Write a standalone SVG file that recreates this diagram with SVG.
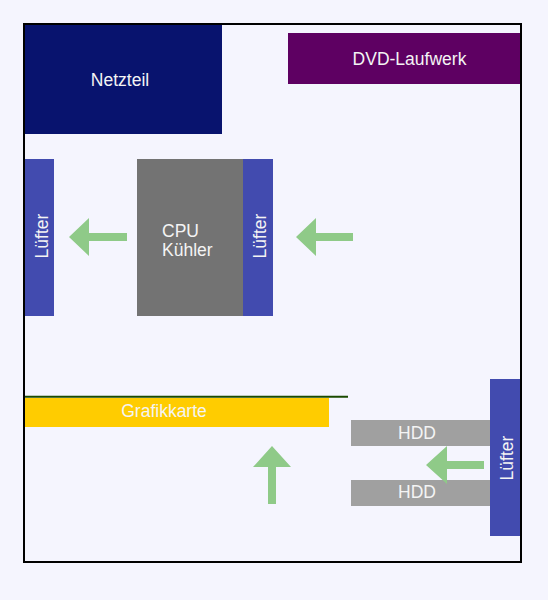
<svg xmlns="http://www.w3.org/2000/svg" width="548" height="600" viewBox="0 0 548 600">
<style>
  text { font-family: "Liberation Sans", Arial, sans-serif; font-size: 17.5px; fill: #f4f4f4; }
  .mid { text-anchor: middle; }
  .fan { fill: #424baf; }
  .arrow { fill: #8fca88; }
  .hdd { fill: #a0a0a0; }
</style>
<rect x="0" y="0" width="548" height="600" fill="#f5f5fe"/>
<rect id="gehaeuse" x="24" y="24" width="497" height="538" fill="#f5f5fe" stroke="#000" stroke-width="2"/>
<g id="netzteil">
  <rect x="25" y="25" width="197" height="109" fill="#08136e"/>
  <text class="mid" x="120" y="86">Netzteil</text>
</g>
<g id="dvd">
  <rect x="288" y="33" width="232" height="51" fill="#5e0062"/>
  <text class="mid" x="409.5" y="65">DVD-Laufwerk</text>
</g>
<g id="luefter-links">
  <rect class="fan" x="25" y="159" width="29" height="157"/>
  <text class="mid" transform="translate(47.5,236) rotate(-90)">Lüfter</text>
</g>
<g id="cpu">
  <rect x="137" y="159" width="106" height="157" fill="#737373"/>
  <text x="162" y="236.5">CPU</text>
  <text x="162" y="256">Kühler</text>
</g>
<g id="luefter-cpu">
  <rect class="fan" x="243" y="159" width="30" height="157"/>
  <text class="mid" transform="translate(266,236) rotate(-90)">Lüfter</text>
</g>
<g id="grafikkarte">
  <rect x="25" y="398" width="304" height="29" fill="#ffcc00"/>
  <line x1="25" y1="396.7" x2="348" y2="396.7" stroke="#1a4a00" stroke-width="2"/>
  <text class="mid" x="164" y="417">Grafikkarte</text>
</g>
<g id="hdd1">
  <rect class="hdd" x="351" y="420" width="139" height="26"/>
  <text class="mid" x="417" y="438.5">HDD</text>
</g>
<g id="hdd2">
  <rect class="hdd" x="351" y="480" width="139" height="26"/>
  <text class="mid" x="417" y="497.5">HDD</text>
</g>
<g id="luefter-rechts">
  <rect class="fan" x="490" y="379" width="30" height="157"/>
  <text class="mid" transform="translate(512.5,458) rotate(-90)">Lüfter</text>
</g>
<g id="connectors">
  <polygon class="arrow" points="69,237 89,218 89,233 127,233 127,241 89,241 89,256"/>
  <polygon class="arrow" points="296,237 316,218 316,233 353,233 353,241 316,241 316,256"/>
  <polygon class="arrow" points="272,446 291,467 276,467 276,504 268,504 268,467 253,467"/>
  <polygon class="arrow" points="426,465 447,446 447,461 484,461 484,469 447,469 447,484"/>
</g>
</svg>
